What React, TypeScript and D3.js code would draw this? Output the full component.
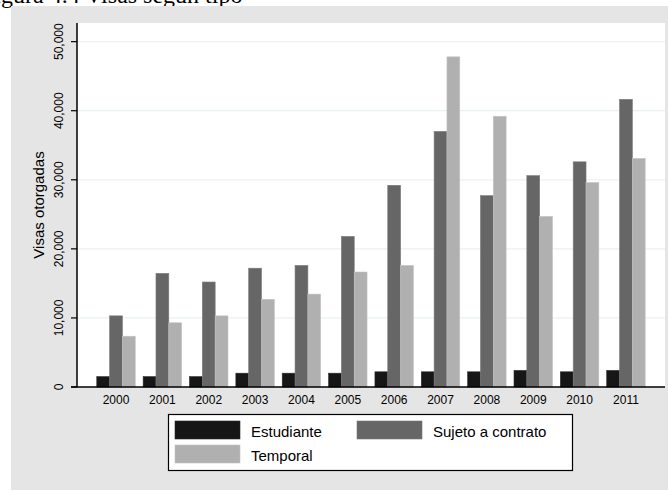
// Visas otorgadas por tipo, 2000-2011 (grouped bars, Stata-like look).

import * as d3 from "d3";

const years = ["2000", "2001", "2002", "2003", "2004", "2005", "2006", "2007", "2008", "2009", "2010", "2011"];
const seriesNames = ["Estudiante", "Sujeto a contrato", "Temporal"];
const estudiante = [1500, 1500, 1500, 2000, 2000, 2000, 2200, 2200, 2200, 2400, 2200, 2400];
const sujeto = [10300, 16450, 15200, 17200, 17600, 21800, 29200, 37000, 27700, 30600, 32600, 41650];
const temporal = [7350, 9300, 10300, 12700, 13450, 16650, 17600, 47800, 39200, 24700, 29600, 33100];
const yTicks = [0, 10000, 20000, 30000, 40000, 50000];
const colors = ["#161616", "#666666", "#b0b0b0"];
const edges = ["#2a2a2a", "#7a7a7a", "#c4c4c4"];

const W = 668;
const H = 491;
const left = 77;
const right = 665;
const top = 23;
const bottom = 387;
const font = "'Liberation Sans', Arial, Helvetica, sans-serif";

export default function App() {
  const values = [estudiante, sujeto, temporal];

  const x = d3.scaleBand(years, [left, right]).paddingInner(0.17).paddingOuter(0.427);
  const xs = d3.scaleBand(d3.range(seriesNames.length), [0, x.bandwidth()]);
  const y = d3.scaleLinear([0, 52700], [bottom, top]);
  const fmt = d3.format(",");

  return (
    <svg width={W} height={H} style={{ position: "absolute", left: 0, top: 0 }}>
      <rect x={0} y={0} width={W} height={H} fill="#ffffff" />
      {/* caption of the source page, cut by the top edge as in the original */}
      <text x={-19} y={3} fontFamily="'Liberation Serif', 'Times New Roman', serif" fontSize={24} fill="#000">
        Figura 4.4 Visas según tipo
      </text>
      <rect x={11} y={6} width={W - 11} height={484} fill="#e5e5e5" />
      <rect x={left} y={top} width={right - left} height={bottom - top} fill="#ffffff" />

      {/* grid */}
      {yTicks.slice(1).map((t) => (
        <line key={t} x1={left} x2={right} y1={y(t)} y2={y(t)} stroke="#eaf1f1" strokeWidth={1.3} />
      ))}

      {/* bars */}
      {years.map((yr, i) => (
        <g key={yr} transform={`translate(${x(yr)},0)`}>
          {values.map((s, k) => (
            <rect
              key={k}
              x={xs(k)}
              y={y(s[i])}
              width={xs.bandwidth()}
              height={bottom - y(s[i])}
              fill={colors[k]}
              stroke={edges[k]}
              strokeWidth={0.6}
            />
          ))}
        </g>
      ))}

      {/* y axis */}
      <line x1={left} x2={left} y1={top} y2={bottom} stroke="#000" strokeWidth={1.5} />
      {yTicks.map((t) => (
        <g key={t}>
          <line x1={left - 6} x2={left} y1={y(t)} y2={y(t)} stroke="#000" strokeWidth={1.2} />
          <text
            transform={`translate(62.5,${y(t)}) rotate(-90)`}
            textAnchor="middle"
            fontFamily={font}
            fontSize={12}
            fill="#000"
          >
            {fmt(t)}
          </text>
        </g>
      ))}
      <text
        transform={`translate(44,${(top + bottom) / 2}) rotate(-90)`}
        textAnchor="middle"
        fontFamily={font}
        fontSize={15}
        fill="#000"
      >
        Visas otorgadas
      </text>

      {/* x axis */}
      <line x1={left - 6} x2={right} y1={bottom} y2={bottom} stroke="#000" strokeWidth={1.5} />
      {years.map((yr) => (
        <text
          key={yr}
          x={(x(yr) ?? 0) + x.bandwidth() / 2}
          y={403.5}
          textAnchor="middle"
          fontFamily={font}
          fontSize={12}
          fill="#000"
        >
          {yr}
        </text>
      ))}

      {/* legend */}
      <rect x={168.5} y={414.5} width={404} height={56} fill="#ffffff" stroke="#000" strokeWidth={1.2} />
      {seriesNames.map((name, k) => {
        const col = k % 2;
        const row = Math.floor(k / 2);
        const sx = col === 0 ? 175 : 357;
        const sy = row === 0 ? 421 : 445;
        return (
          <g key={name}>
            <rect x={sx} y={sy} width={65} height={18} fill={colors[k]} stroke={edges[k]} strokeWidth={0.6} />
            <text x={sx + 76} y={sy + 15.5} fontFamily={font} fontSize={15} fill="#000">
              {name}
            </text>
          </g>
        );
      })}
    </svg>
  );
}
